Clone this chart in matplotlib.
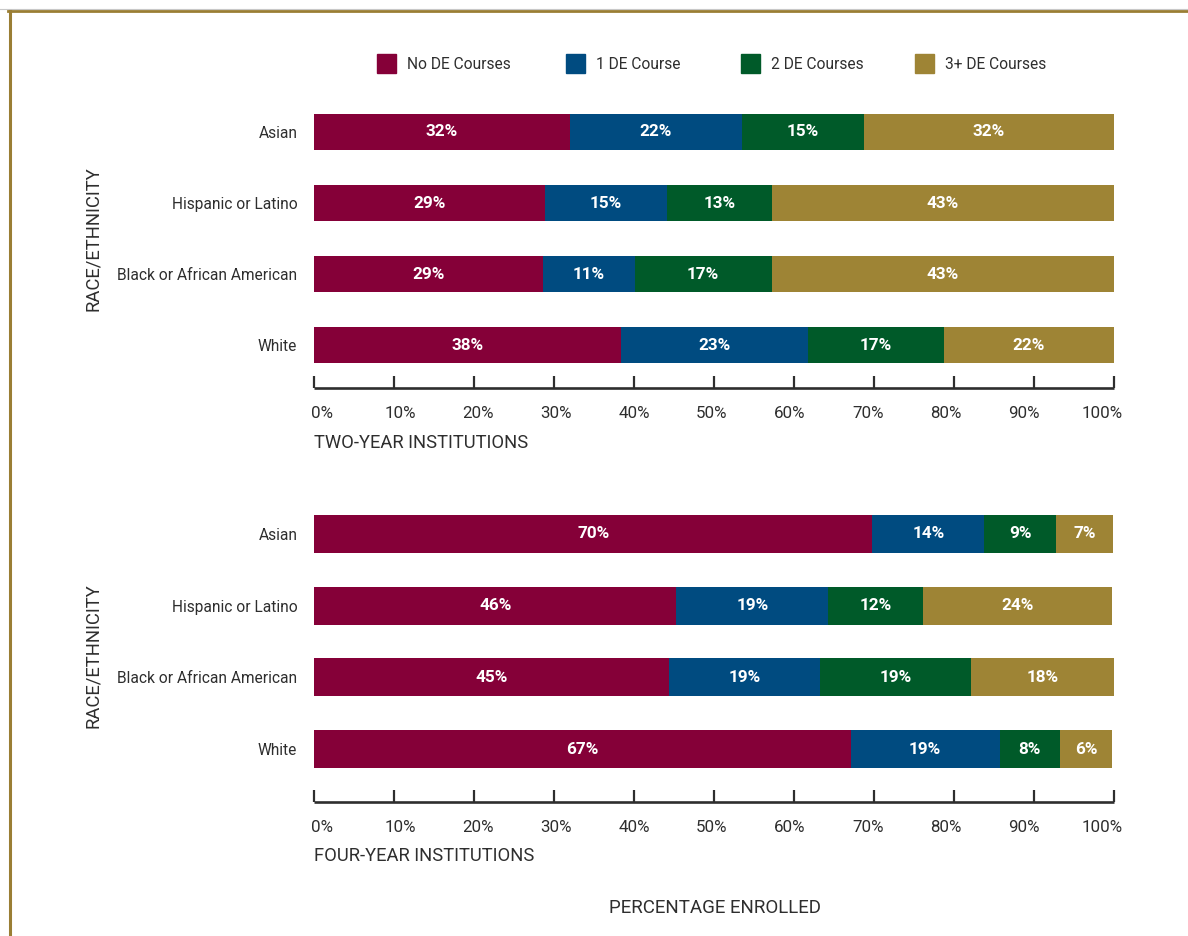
import matplotlib
matplotlib.use("Agg")
import matplotlib.pyplot as plt
from matplotlib.lines import Line2D
from matplotlib.patches import Rectangle
import numpy as np

plt.rcParams['font.family'] = ['Roboto', 'DejaVu Sans']

# ---------------- data ----------------
categories = ["Asian", "Hispanic or Latino", "Black or African American", "White"]
series_names = ["No DE Courses", "1 DE Course", "2 DE Courses", "3+ DE Courses"]
colors = ["#850038", "#004B80", "#005A29", "#9E8435"]

# two-year institutions (segment widths, %)
two_no = [32.0, 28.9, 28.6, 38.4]
two_one = [21.5, 15.2, 11.5, 23.3]
two_two = [15.2, 13.1, 17.1, 17.0]
two_three = [31.5, 43.0, 43.0, 21.6]
two_labels = [["32%", "29%", "29%", "38%"],
              ["22%", "15%", "11%", "23%"],
              ["15%", "13%", "17%", "17%"],
              ["32%", "43%", "43%", "22%"]]

# four-year institutions (segment widths, %)
four_no = [69.8, 45.3, 44.4, 67.1]
four_one = [14.0, 19.0, 18.9, 18.6]
four_two = [9.0, 11.8, 18.8, 7.5]
four_three = [7.1, 23.7, 17.9, 6.6]
four_labels = [["70%", "46%", "45%", "67%"],
               ["14%", "19%", "19%", "19%"],
               ["9%", "12%", "19%", "8%"],
               ["7%", "24%", "18%", "6%"]]

xticks = [0, 10, 20, 30, 40, 50, 60, 70, 80, 90, 100]
xtick_labels = ["0%", "10%", "20%", "30%", "40%", "50%", "60%", "70%", "80%", "90%", "100%"]

# ---------------- layout ----------------
W, H = 1188, 936
fig = plt.figure(figsize=(W / 100, H / 100), dpi=100)
TXT = "#2E2E2E"
FS = 11.2


def fx(px):
    return px / W


def fy(py):
    return 1 - py / H


def draw_panel(top, bottom, ylim, series, labels, title, title_y, bar_h):
    ax = fig.add_axes([fx(314), fy(bottom), fx(1114) - fx(314), fy(top) - fy(bottom)])
    ax.xaxis.remove_overlapping_locs = False
    y = np.arange(len(categories))
    left = np.zeros(len(categories))
    for vals, lab, col in zip(series, labels, colors):
        bars = ax.barh(y, vals, left=left, height=bar_h, color=col, edgecolor='none')
        ax.bar_label(bars, labels=lab, label_type='center', color='white',
                     fontsize=12.3, fontweight='bold')
        left = left + np.array(vals)
    ax.set_xlim(0, 100)
    ax.set_ylim(*ylim)
    ax.set_yticks(y)
    ax.set_yticklabels(categories, fontsize=FS, color=TXT)
    ax.tick_params(axis='y', length=0, pad=12)
    for s in ['top', 'right', 'left']:
        ax.spines[s].set_visible(False)
    ax.spines['bottom'].set_linewidth(1.9)
    ax.spines['bottom'].set_color(TXT)
    ax.spines['bottom'].set_capstyle('butt')
    # major ticks (marks only)
    ax.set_xticks(xticks)
    ax.set_xticklabels([""] * len(xticks))
    ax.tick_params(axis='x', which='major', direction='in', length=9, width=1.6, color=TXT)
    # labels slightly offset, as in the original
    lab_pos = [1 + 9.75 * k for k in range(len(xticks))]
    ax.set_xticks(lab_pos, minor=True)
    ax.set_xticklabels(xtick_labels, minor=True, fontsize=12.2, color=TXT)
    ax.tick_params(axis='x', which='minor', length=0, pad=13)
    fig.text(fx(314), fy(title_y), title, fontsize=13.2, color=TXT, ha='left', va='center')
    return ax


draw_panel(100, 388, (3.6056, -0.4507),
           [two_no, two_one, two_two, two_three], two_labels,
           "TWO-YEAR INSTITUTIONS", 443, 0.52)
draw_panel(500, 801.5, (3.732, -0.474),
           [four_no, four_one, four_two, four_three], four_labels,
           "FOUR-YEAR INSTITUTIONS", 856, 0.53)

# y-axis titles
fig.text(fx(93), fy(239), "RACE/ETHNICITY", rotation=90, fontsize=13.3, color=TXT,
         ha='center', va='center')
fig.text(fx(93), fy(656), "RACE/ETHNICITY", rotation=90, fontsize=13.3, color=TXT,
         ha='center', va='center')
# x-axis title
fig.text(fx(715), fy(908), "PERCENTAGE ENROLLED", fontsize=13.5, color=TXT,
         ha='center', va='center')

# legend
legend_x = [377, 566, 741, 915]
for name, col, lx in zip(series_names, colors, legend_x):
    fig.patches.append(Rectangle((fx(lx), fy(73)), fx(19), fy(54) - fy(73),
                                 transform=fig.transFigure, color=col))
    fig.text(fx(lx + 30), fy(64.5), name, fontsize=FS, color=TXT, ha='left', va='center')

# frame
fig.lines.append(Line2D([fx(0), fx(W)], [fy(9), fy(9)], transform=fig.transFigure,
                        color="#C8C8C8", linewidth=0.8))
fig.lines.append(Line2D([fx(8), fx(W)], [fy(11.3), fy(11.3)], transform=fig.transFigure,
                        color="#9A7E34", linewidth=2.0))
fig.lines.append(Line2D([fx(9.5), fx(9.5)], [fy(10.5), fy(H)], transform=fig.transFigure,
                        color="#9A7E34", linewidth=2.2))

fig.savefig("out.png", dpi=100)
